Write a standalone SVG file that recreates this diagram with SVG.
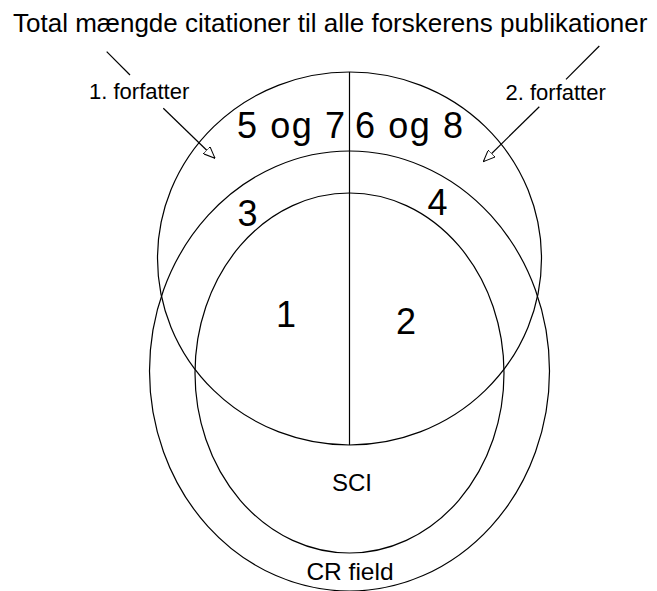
<svg xmlns="http://www.w3.org/2000/svg" width="657" height="591" viewBox="0 0 657 591">
  <style>
    .shape { fill: none; stroke: #000; stroke-width: 1.2; }
    .conn { fill: none; stroke: #000; stroke-width: 1.2; }
    .txt { font-family: "Liberation Sans", Arial, sans-serif; fill: #000; }
    .title { font-size: 26px; }
    .small { font-size: 22px; }
    .num { font-size: 36px; }
    .lbl { font-size: 24px; text-anchor: middle; }
  </style>
  <defs>
    <marker id="arrow" viewBox="0 0 12 10" refX="12" refY="5" markerWidth="12" markerHeight="10" markerUnits="userSpaceOnUse" orient="auto">
      <path d="M0,0 L12,5 L0,10 Z" fill="#fff" stroke="#000" stroke-width="1"/>
    </marker>
  </defs>
  <rect width="657" height="591" fill="#fff"/>

  <g id="title">
    <text class="txt title" x="13" y="31.5">Total mængde citationer til alle forskerens publikationer</text>
  </g>

  <g id="total-circle">
    <ellipse class="shape" cx="349.5" cy="258.5" rx="192" ry="186.5"/>
  </g>
  <g id="cr-field">
    <ellipse class="shape" cx="349.5" cy="371" rx="200" ry="220"/>
    <text class="txt lbl" x="350" y="580" style="font-size:24.5px">CR field</text>
  </g>
  <g id="sci">
    <ellipse class="shape" cx="349.5" cy="373" rx="154.5" ry="180"/>
    <text class="txt lbl" x="352" y="491">SCI</text>
  </g>

  <g id="author1">
    <text class="txt small" x="89" y="98.5">1. forfatter</text>
  </g>
  <g id="author2">
    <text class="txt small" x="505.5" y="100">2. forfatter</text>
  </g>

  <g id="regions">
    <text class="txt num" x="237" y="138.3" textLength="108" lengthAdjust="spacing">5 og 7</text>
    <text class="txt num" x="355" y="138.3" textLength="108" lengthAdjust="spacing">6 og 8</text>
    <text class="txt num" x="247.5" y="226" text-anchor="middle">3</text>
    <text class="txt num" x="437.5" y="215" text-anchor="middle">4</text>
    <text class="txt num" x="286" y="327" text-anchor="middle">1</text>
    <text class="txt num" x="406" y="334" text-anchor="middle">2</text>
  </g>

  <g id="connectors">
    <line class="conn" x1="349.5" y1="72" x2="349.5" y2="445"/>
    <line class="conn" x1="106.7" y1="51.7" x2="130" y2="75"/>
    <line class="conn" x1="566" y1="79.3" x2="599.3" y2="46"/>
    <line class="conn" x1="163.3" y1="108.3" x2="215" y2="158.3" marker-end="url(#arrow)"/>
    <line class="conn" x1="539.3" y1="106.7" x2="483.3" y2="161.7" marker-end="url(#arrow)"/>
  </g>
</svg>
